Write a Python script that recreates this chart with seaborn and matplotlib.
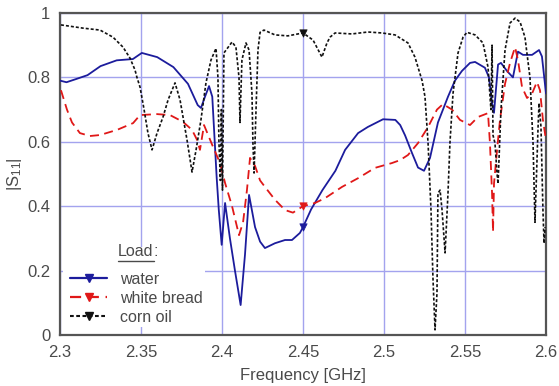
import numpy as np
import pandas as pd
import matplotlib
matplotlib.use("Agg")
import matplotlib.pyplot as plt
from matplotlib.lines import Line2D
from matplotlib.patches import Rectangle
import seaborn as sns

# ---------------- data ----------------
water_f = [2.300, 2.304, 2.310, 2.317, 2.325, 2.335, 2.345, 2.3505, 2.360, 2.370,
           2.379, 2.385, 2.387, 2.3895, 2.392, 2.394, 2.3967, 2.398, 2.3998, 2.4019,
           2.4049, 2.408, 2.4115, 2.4142, 2.4167, 2.4204, 2.4235, 2.4265, 2.4327, 2.4389,
           2.4432, 2.4481, 2.450, 2.455, 2.462, 2.470, 2.476, 2.484, 2.490, 2.4994,
           2.507, 2.510, 2.513, 2.5173, 2.521, 2.5247, 2.5284, 2.5333, 2.5395, 2.5438,
           2.5481, 2.5531, 2.5562, 2.5623, 2.5648, 2.5667, 2.5679, 2.5704, 2.5722, 2.5759,
           2.5796, 2.5827, 2.5858, 2.5914, 2.5957, 2.5975, 2.600]
water_v = [0.790, 0.785, 0.795, 0.807, 0.835, 0.853, 0.857, 0.876, 0.863, 0.832,
           0.780, 0.714, 0.705, 0.740, 0.773, 0.740, 0.490, 0.390, 0.280, 0.410,
           0.300, 0.200, 0.093, 0.250, 0.435, 0.335, 0.290, 0.270, 0.285, 0.295,
           0.295, 0.317, 0.335, 0.390, 0.450, 0.510, 0.575, 0.627, 0.646, 0.670,
           0.668, 0.652, 0.620, 0.565, 0.520, 0.510, 0.550, 0.660, 0.740, 0.790,
           0.820, 0.845, 0.848, 0.830, 0.800, 0.720, 0.690, 0.840, 0.845, 0.820,
           0.800, 0.880, 0.870, 0.870, 0.885, 0.865, 0.750]

bread_f = [2.3006, 2.3043, 2.3074, 2.3123, 2.3185, 2.3247, 2.3352, 2.3451, 2.3494, 2.3599,
           2.3679, 2.3759, 2.3815, 2.3846, 2.3864, 2.3889, 2.3944, 2.3988, 2.4019, 2.4062,
           2.4093, 2.4105, 2.4130, 2.4154, 2.4173, 2.4204, 2.4235, 2.4265, 2.4327, 2.4389,
           2.4438, 2.4500, 2.4574, 2.4636, 2.4741, 2.4840, 2.4944, 2.5049, 2.5099, 2.5148,
           2.5210, 2.5272, 2.5327, 2.5364, 2.5420, 2.5469, 2.5531, 2.5580, 2.5642, 2.5654,
           2.5667, 2.5673, 2.5679, 2.5698, 2.5716, 2.5747, 2.5778, 2.5809, 2.5827, 2.5852,
           2.5883, 2.5914, 2.5944, 2.5963, 2.5981, 2.6000]
bread_v = [0.760, 0.700, 0.660, 0.627, 0.618, 0.621, 0.637, 0.658, 0.683, 0.686,
           0.683, 0.662, 0.637, 0.606, 0.575, 0.652, 0.585, 0.534, 0.472, 0.400,
           0.335, 0.310, 0.350, 0.450, 0.550, 0.525, 0.480, 0.460, 0.420, 0.388,
           0.380, 0.400, 0.410, 0.425, 0.460, 0.487, 0.519, 0.534, 0.543, 0.559,
           0.596, 0.646, 0.700, 0.717, 0.700, 0.668, 0.652, 0.677, 0.689, 0.596,
           0.440, 0.320, 0.470, 0.575, 0.668, 0.780, 0.845, 0.894, 0.854, 0.770,
           0.736, 0.750, 0.786, 0.760, 0.668, 0.606]

oil_f = [2.3006, 2.3142, 2.3247, 2.3327, 2.3389, 2.3432, 2.3463, 2.3475, 2.3494, 2.3519,
         2.3543, 2.3568, 2.3599, 2.3636, 2.3667, 2.3710, 2.3741, 2.3784, 2.3815, 2.3840,
         2.3870, 2.3901, 2.3932, 2.3963, 2.3975, 2.3981, 2.3990, 2.3996, 2.4003, 2.4012,
         2.4062, 2.4086, 2.4105, 2.4111, 2.4123, 2.4148, 2.4167, 2.4185, 2.4191, 2.4198,
         2.4210, 2.4222, 2.4235, 2.4259, 2.4327, 2.4407, 2.4500, 2.4562, 2.4617, 2.4648,
         2.4667, 2.4698, 2.4802, 2.4901, 2.4988, 2.5068, 2.5148, 2.5191, 2.5235, 2.5253,
         2.5272, 2.5290, 2.5302, 2.5315, 2.5327, 2.5333, 2.5346, 2.5358, 2.5377, 2.5395,
         2.5407, 2.5426, 2.5457, 2.5488, 2.5512, 2.5562, 2.5611, 2.5642, 2.5660, 2.5667,
         2.5673, 2.5685, 2.5698, 2.5704, 2.5722, 2.5747, 2.5778, 2.5809, 2.5840, 2.5870,
         2.5901, 2.5920, 2.5932, 2.5951, 2.5957, 2.5969, 2.5981, 2.5988, 2.5994]
oil_v = [0.963, 0.953, 0.947, 0.925, 0.894, 0.860, 0.823, 0.800, 0.770, 0.700,
         0.627, 0.575, 0.627, 0.677, 0.730, 0.783, 0.730, 0.606, 0.506, 0.575,
         0.668, 0.783, 0.854, 0.890, 0.800, 0.600, 0.480, 0.700, 0.450, 0.876,
         0.910, 0.894, 0.800, 0.660, 0.854, 0.907, 0.885, 0.750, 0.596, 0.503,
         0.700, 0.885, 0.940, 0.947, 0.932, 0.929, 0.938, 0.916, 0.863, 0.907,
         0.925, 0.938, 0.935, 0.941, 0.938, 0.932, 0.907, 0.863, 0.790, 0.740,
         0.596, 0.390, 0.180, 0.016, 0.130, 0.440, 0.450, 0.390, 0.255, 0.440,
         0.596, 0.750, 0.876, 0.925, 0.940, 0.932, 0.907, 0.832, 0.700, 0.900,
         0.620, 0.596, 0.500, 0.470, 0.700, 0.885, 0.969, 0.984, 0.972, 0.925,
         0.800, 0.596, 0.350, 0.646, 0.720, 0.646, 0.390, 0.285, 0.335]

series_names = ["water", "white bread", "corn oil"]
legend_title = "Load"
marker_freq = 2.45
x_ticks = [2.3, 2.35, 2.4, 2.45, 2.5, 2.55, 2.6]
x_tick_labels = ["2.3", "2.35", "2.4", "2.45", "2.5", "2.55", "2.6"]
y_ticks = [0, 0.2, 0.4, 0.6, 0.8, 1.0]
y_tick_labels = ["0", "0.2", "0.4", "0.6", "0.8", "1"]

# ---------------- style ----------------
sns.set_style("white")
plt.rcParams["font.family"] = ["Liberation Sans", "DejaVu Sans"]
plt.rcParams["mathtext.fontset"] = "custom"
plt.rcParams["mathtext.rm"] = "Liberation Sans"
plt.rcParams["mathtext.it"] = "Liberation Sans:italic"

colors = {"water": "#1c1c9c", "white bread": "#e01818", "corn oil": "#111111"}
styles = {"water": dict(ls="-", lw=1.3),
          "white bread": dict(ls=(0, (5, 3)), lw=1.3),
          "corn oil": dict(ls=(0, (1.8, 1.2)), lw=1.2)}
text_color = "#4a4a4a"
grid_color = "#a3a3ee"

fig = plt.figure(figsize=(5.59, 3.86), dpi=100)
ax = fig.add_axes([60 / 559, 51 / 386, 486 / 559, 322 / 386])

frames = {
    "water": pd.DataFrame({"f": water_f, "v": water_v}),
    "white bread": pd.DataFrame({"f": bread_f, "v": bread_v}),
    "corn oil": pd.DataFrame({"f": oil_f, "v": oil_v}),
}

for name in series_names:
    d = frames[name]
    sns.lineplot(data=d, x="f", y="v", ax=ax, color=colors[name],
                 linestyle=styles[name]["ls"], linewidth=styles[name]["lw"],
                 sort=False, estimator=None, zorder=3)
    mv = np.interp(marker_freq, d["f"], d["v"])
    sns.scatterplot(x=[marker_freq], y=[mv], ax=ax, marker="v", s=28,
                    color=colors[name], edgecolor=colors[name], linewidth=0.5, zorder=4)

ax.set_xlim(2.3, 2.6)
ax.set_ylim(0, 1)
ax.set_xticks(x_ticks)
ax.set_xticklabels(x_tick_labels)
ax.set_yticks(y_ticks)
ax.set_yticklabels(y_tick_labels)
ax.tick_params(axis="both", length=0, labelsize=12, labelcolor=text_color, pad=7)
ax.grid(True, color=grid_color, lw=1.0)
ax.set_axisbelow(True)
for s in ax.spines.values():
    s.set_color("#555555")
    s.set_linewidth(1.6)

ax.set_xlabel("Frequency [GHz]", fontsize=12, color=text_color, labelpad=6)
ax.set_ylabel(r"|S$_{\mathrm{11}}$|", fontsize=12, color=text_color, labelpad=2)

# white box behind the legend hiding the grid
ax.add_patch(Rectangle((0.006, 0.025), 0.292, 0.248, transform=ax.transAxes,
                       facecolor="white", edgecolor="none", zorder=1))

handles = [Line2D([0], [0], color=colors[n], linestyle=styles[n]["ls"],
                  linewidth=styles[n]["lw"] + 0.3, marker="v", markersize=6,
                  markerfacecolor=colors[n], markeredgecolor=colors[n])
           for n in series_names]
leg = ax.legend(handles, series_names, loc="lower left",
                bbox_to_anchor=(0.0, 0.0), frameon=False, fontsize=11.5,
                handlelength=2.3, handletextpad=0.8, labelspacing=0.25,
                numpoints=1, borderaxespad=0.25)
for t in leg.get_texts():
    t.set_color(text_color)

title_txt = ax.text(58 / 486, 0.245, legend_title, transform=ax.transAxes,
                    fontsize=11.5, color=text_color, va="baseline", ha="left", zorder=6)
fig.canvas.draw()
bb = title_txt.get_window_extent(renderer=fig.canvas.get_renderer())
inv = ax.transAxes.inverted()
x1_ax, _ = inv.transform((bb.x1, bb.y0))
ax.text(x1_ax, 0.245, ":", transform=ax.transAxes, fontsize=11.5, color=text_color,
        va="baseline", ha="left", zorder=6)
fig.add_artist(Line2D([bb.x0 / 559, bb.x1 / 559], [(bb.y0 - 1.5) / 386, (bb.y0 - 1.5) / 386],
                      color=text_color, lw=1.0))

fig.savefig("out.png", dpi=100)
